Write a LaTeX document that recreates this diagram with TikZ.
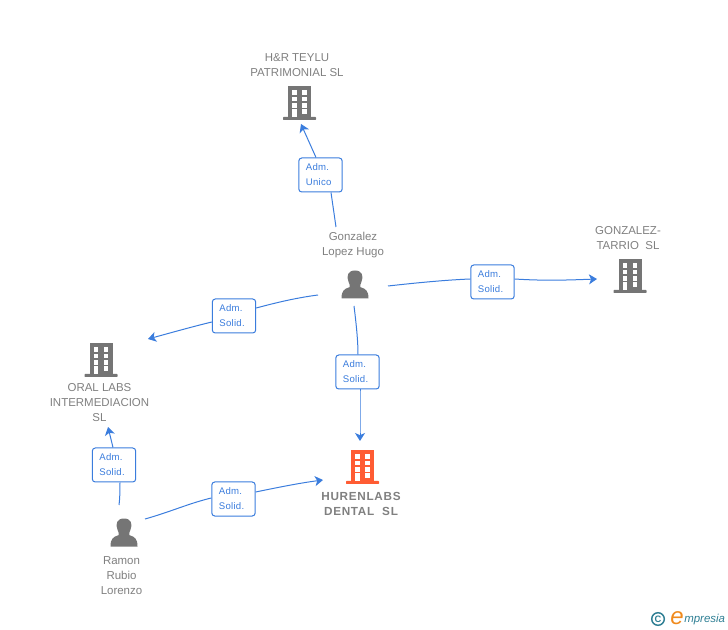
\documentclass[tikz,border=0pt]{standalone}
\usepackage{fontspec}
\setmainfont{Liberation Sans}
\usetikzlibrary{arrows.meta}
\definecolor{linkblue}{HTML}{3B7DDD}
\definecolor{icongray}{HTML}{757575}
\definecolor{textgray}{HTML}{808080}
\definecolor{mainorange}{HTML}{FF5C33}
\definecolor{logoteal}{HTML}{2F7F94}
\definecolor{logoorange}{HTML}{F08A1D}
\tikzset{
  px/.style={x=0.75pt,y=-0.75pt},
  reltag/.style={draw=linkblue,line width=0.75pt,rounded corners=2.2pt,fill=white,text=linkblue,
    minimum height=25.5pt,inner xsep=5.25pt,inner ysep=0pt,text width=22pt,align=left,
    font=\fontsize{7.2}{11.25}\selectfont\addfontfeature{LetterSpace=3}},
  entlabel/.style={text=textgray,align=center,inner sep=0pt,font=\fontsize{8.6}{11.25}\selectfont},
  mainlabel/.style={text=textgray,align=center,inner sep=0pt,
    font=\fontsize{8.8}{11.25}\selectfont\bfseries\addfontfeature{LetterSpace=6}},
  iconspot/.style={inner sep=0pt,minimum width=25pt,minimum height=25pt},
  rel/.style={draw=linkblue,line width=0.75pt},
  relhead/.style={rel,-{Stealth[length=6pt,width=7.5pt,inset=1.6pt]}},
}
% building icon: #1 node name, #2 x, #3 y (centre, px), #4 colour
\newcommand{\bldgicon}[4]{%
  \node[iconspot] (#1) at (#2,#3) {};
  \begin{scope}[shift={(#2,#3)}]
    \fill[#4] (-11.5,-17) rectangle (11.5,14);
    \fill[#4,rounded corners=0.5pt] (-16.5,14) rectangle (16.5,17);
    \foreach \wy in {-12.5,-6,0.5}{
      \fill[white] (-7.5,\wy) rectangle (-3,\wy+4.3);
      \fill[white] (2.5,\wy) rectangle (7,\wy+4.3);
    }
    \fill[white] (-7.5,6.5) rectangle (-3,14);
    \fill[white] (2.5,6.5) rectangle (7,10.8);
  \end{scope}}
% person icon
\newcommand{\personicon}[3]{%
  \node[iconspot] (#1) at (#2,#3) {};
  \begin{scope}[shift={(#2,#3)}]
    \fill[icongray] (-13.5,13.5) .. controls (-13.5,6) and (-11,3.8) .. (-5.5,2.2)
      .. controls (-4.6,0.5) and (-5.8,-1) .. (-6.4,-3)
      .. controls (-9,-9) and (-7,-14.5) .. (0,-14.5)
      .. controls (7,-14.5) and (9,-9) .. (6.4,-3)
      .. controls (5.8,-1) and (4.6,0.5) .. (5.5,2.2)
      .. controls (11,3.8) and (13.5,6) .. (13.5,13.5) -- cycle;
  \end{scope}}
\begin{document}
\begin{tikzpicture}[px]
\useasboundingbox (0,0) rectangle (728,630);

% entities
\bldgicon{teylu}{299.5}{103}{icongray}
\node[entlabel] (teylutxt) at (297,65) {H\&R TEYLU\\PATRIMONIAL SL};
\bldgicon{tarrio}{630}{276}{icongray}
\node[entlabel] (tarriotxt) at (628,238) {GONZALEZ-\\TARRIO\ \ SL};
\bldgicon{oral}{101}{360}{icongray}
\node[entlabel] (oraltxt) at (99.5,403) {ORAL LABS\\INTERMEDIACION\\SL};
\bldgicon{huren}{362.5}{467}{mainorange}
\node[mainlabel] (hurentxt) at (361,503.5) {HURENLABS\\DENTAL\ \ SL};
\personicon{hugo}{355}{285}
\node[entlabel] (hugotxt) at (353,245.5) {Gonzalez\\Lopez Hugo};
\personicon{ramon}{124}{533}
\node[entlabel] (ramontxt) at (121.5,576) {Ramon\\Rubio\\Lorenzo};

% relation tags
\node[reltag] (t1) at (320.5,175) {Adm.\\Unico};
\node[reltag] (t2) at (492.5,282) {Adm.\\Solid.};
\node[reltag] (t3) at (234,316) {Adm.\\Solid.};
\node[reltag] (t4) at (357.5,372) {Adm.\\Solid.};
\node[reltag] (t5) at (114,465) {Adm.\\Solid.};
\node[reltag] (t6) at (233.5,499) {Adm.\\Solid.};

% free ends of the connectors
\coordinate (a1s) at (336,227); \coordinate (a1e) at (301,124);
\coordinate (a2s) at (388,286); \coordinate (a2e) at (597,279);
\coordinate (a3s) at (318,295); \coordinate (a3e) at (148,339);
\coordinate (a4s) at (354,306); \coordinate (a4e) at (360,441);
\coordinate (a5s) at (119,505); \coordinate (a5e) at (108,427);
\coordinate (a6s) at (145,519); \coordinate (a6e) at (323,480);

\draw[rel] (a1s) -- (t1.south -| 331,0);
\draw[relhead] (t1.north -| 316,0) -- (a1e);
\draw[rel] (a2s) .. controls (415,283) and (445,280) .. (t2.west |- 0,279);
\draw[relhead] (t2.east |- 0,279) .. controls (545,281) and (570,280) .. (a2e);
\draw[rel] (a3s) .. controls (295,298) and (275,303) .. (t3.east |- 0,308);
\draw[relhead] (t3.west |- 0,322) .. controls (195,326) and (170,333) .. (a3e);
\draw[rel] (a4s) .. controls (356,322) and (358,340) .. (t4.north -| 358,0);
\draw[relhead] (t4.south -| 360,0) .. controls (360,405) and (360,425) .. (a4e);
\draw[rel] (a5s) .. controls (120,497) and (120,490) .. (t5.south -| 120,0);
\draw[relhead] (t5.north -| 113,0) -- (a5e);
\draw[rel] (a6s) .. controls (170,512) and (190,503) .. (t6.west |- 0,498);
\draw[relhead] (t6.east |- 0,492) .. controls (280,487) and (300,483) .. (a6e);

% watermark
\draw[logoteal,line width=1.1pt] (658,619) circle (6.3);
\node[inner sep=0pt,text=logoteal,font=\fontsize{7}{7}\selectfont\bfseries] (logoc) at (658,619) {C};
\node[inner sep=0pt,text=logoorange,font={\fontsize{18}{18}\selectfont\itshape}] (logoe) at (677,618) {e};
\node[inner sep=0pt,anchor=west,text=logoteal,font={\fontsize{8.6}{10}\selectfont\itshape}] (logot) at (684,619.5) {mpresia};
\end{tikzpicture}
\end{document}
